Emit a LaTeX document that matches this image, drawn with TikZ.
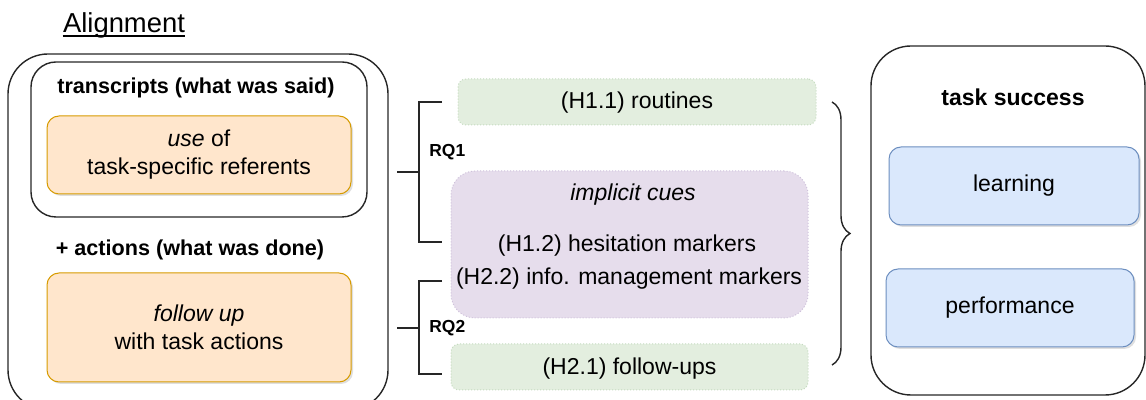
\documentclass[tikz,border=0pt]{standalone}
\usepackage{fontspec}
\setmainfont{Liberation Sans}
\usetikzlibrary{shadows,decorations.pathreplacing}
\definecolor{orangefill}{HTML}{FFE6CC}
\definecolor{orangeline}{HTML}{D79B00}
\definecolor{greenfill}{HTML}{E3EEDF}
\definecolor{greenline}{HTML}{C5DBC0}
\definecolor{purplefill}{HTML}{E6DDEC}
\definecolor{purpleline}{HTML}{CFC2DB}
\definecolor{bluefill}{HTML}{DAE8FC}
\definecolor{blueline}{HTML}{6C8EBF}

\begin{document}
\begin{tikzpicture}[x=0.5pt,y=-0.5pt,
    txt/.style={font=\fontsize{11.5}{14}\selectfont, align=center, inner sep=0pt},
    head/.style={font=\bfseries\fontsize{10.8}{13}\selectfont, inner sep=0pt},
    rq/.style={font=\bfseries\fontsize{8.7}{10}\selectfont, inner sep=0pt, anchor=west},
    group/.style={draw=black!85, line width=0.7pt, inner sep=0pt},
    orangebox/.style={txt, draw=orangeline, fill=orangefill, line width=0.5pt, rounded corners=6pt,
        drop shadow={shadow xshift=1pt, shadow yshift=-1pt, opacity=0.25}},
    bluebox/.style={txt, draw=blueline, fill=bluefill, line width=0.5pt, rounded corners=6pt,
        drop shadow={shadow xshift=1pt, shadow yshift=-1pt, opacity=0.25}},
    greenbox/.style={draw=greenline, fill=greenfill, densely dotted, line width=0.5pt, rounded corners=4pt, inner sep=0pt},
    cuebox/.style={draw=purpleline, fill=purplefill, densely dotted, line width=0.5pt, rounded corners=12pt, inner sep=0pt},
    bracket/.style={draw=black!85, line width=0.8pt}]
    \clip (0,0) rectangle (1146,400);

    % left side: alignment
    \node[txt, font=\fontsize{13.7}{16}\selectfont, anchor=base] (title) at (124,33) {Alignment};
    \draw[line width=1pt] ([yshift=-1.3pt]title.base west) -- ([yshift=-1.3pt]title.base east);
    \node[group, rounded corners=20pt, minimum width=190pt, minimum height=178pt] (align) at (198,232) {};
    \node[group, rounded corners=12.5pt, minimum width=168pt, minimum height=77.5pt] (trans) at (199,139.5) {};
    \node[head] (transhead) at (196,88) {transcripts (what was said)};
    \node[orangebox, minimum width=152pt, minimum height=39pt] (use) at (199,155) {\textit{use} of\\task-specific referents};
    \node[head] (acthead) at (190,250) {+ actions (what was done)};
    \node[orangebox, minimum width=152pt, minimum height=54.5pt] (follow) at (199,327.5) {\textit{follow up}\\with task actions};

    % middle: hypotheses
    \node[greenbox, minimum width=179pt, minimum height=23pt] (routines) at (637,102) {};
    \node[txt] (routinestxt) at (637,103) {(H1.1) routines};
    \node[cuebox, minimum width=178.5pt, minimum height=73.5pt] (cues) at (629.5,244.5) {};
    \node[txt] (cuestxt) at (633,195) {\textit{implicit cues}};
    \node[txt] (hesit) at (627,246) {(H1.2) hesitation markers};
    \node[txt] (info) at (629,279) {(H2.2) info. management markers};
    \node[greenbox, minimum width=178.5pt, minimum height=23pt] (followups) at (629.5,367) {};
    \node[txt] (followupstxt) at (629.5,369) {(H2.1) follow-ups};

    % brackets
    \coordinate (rq1in) at (397,172);
    \coordinate (rq1mid) at (419,172);
    \coordinate (rq1top) at (442,102);
    \coordinate (rq1bot) at (442,242);
    \coordinate (rq2in) at (397,328);
    \coordinate (rq2mid) at (419,328);
    \coordinate (rq2top) at (442,281);
    \coordinate (rq2bot) at (442,374);
    \path[bracket] (rq1in) -- (rq1mid);
    \path[bracket] (rq1top) -| (rq1mid) |- (rq1bot);
    \path[bracket] (rq2in) -- (rq2mid);
    \path[bracket] (rq2top) -| (rq2mid) |- (rq2bot);
    \node[rq] (rq1) at (429,152) {RQ1};
    \node[rq] (rq2) at (429,328) {RQ2};

    \coordinate (bracetop) at (832,102);
    \coordinate (bracebot) at (832,365);
    \path[bracket, line width=0.7pt, decorate, decoration={brace, amplitude=9pt}] (bracetop) -- (bracebot);

    % right side: task success
    \node[group, rounded corners=20pt, minimum width=137pt, minimum height=174.5pt] (success) at (1008,220.5) {};
    \node[head, font=\bfseries\fontsize{11.5}{14}\selectfont] (successhead) at (1013,97) {task success};
    \node[bluebox, minimum width=125pt, minimum height=39pt] (learning) at (1014,186) {learning};
    \node[bluebox, minimum width=124pt, minimum height=39pt] (perf) at (1010,308) {performance};
\end{tikzpicture}
\end{document}
